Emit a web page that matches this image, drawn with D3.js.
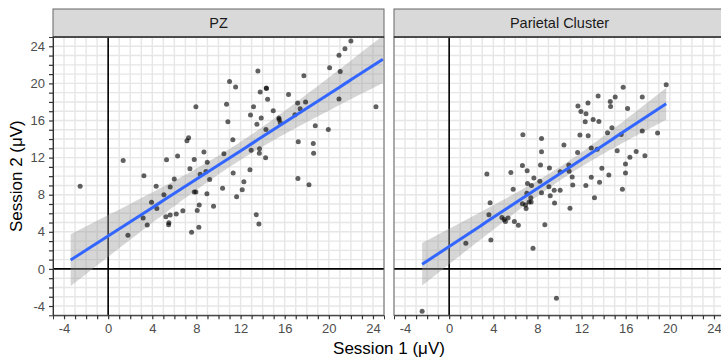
<!DOCTYPE html>
<html><head><meta charset="utf-8">
<script src="https://cdn.jsdelivr.net/npm/d3@7"></script>
<style>body{margin:0;background:#fff}svg{display:block}</style></head>
<body><svg id="c" width="721" height="360"></svg>
<script>
const panels = ["PZ", "Parietal Cluster"];
const pzX = [-2.54,1.36,1.79,3.17,3.24,3.54,3.93,4.35,4.41,5.05,5.23,5.29,5.48,5.5,5.62,5.62,5.99,6.17,6.29,6.77,7.14,7.29,7.41,7.56,7.8,7.8,7.95,7.95,8.07,8.22,8.25,8.34,8.68,8.86,8.95,8.98,9.2,9.55,10.37,10.49,10.73,10.85,11.0,11.3,11.33,11.55,11.64,12.15,12.3,12.85,12.9,12.96,13.18,13.42,13.48,13.57,13.66,13.72,13.7,13.78,13.87,14.27,14.3,14.33,14.35,14.45,14.96,15.47,15.5,15.6,16.35,16.93,17.17,17.23,17.2,17.4,17.74,17.89,18.2,18.59,18.62,18.77,19.95,20.07,20.92,20.92,21.03,21.46,22.0,24.27];
const pzY = [8.9,11.7,3.62,5.49,10.05,4.73,7.18,8.9,6.5,8.0,5.63,11.78,4.77,4.99,8.83,5.81,9.7,5.92,12.17,6.28,13.82,14.15,10.8,3.94,11.8,8.29,8.29,17.49,6.31,4.48,6.89,10.2,12.6,10.5,8.11,11.5,9.65,6.75,8.69,12.42,17.74,15.87,20.2,13.93,10.33,19.6,7.79,8.54,9.4,10.7,16.58,12.78,17.49,5.85,15.6,21.33,4.84,12.96,12.46,19.07,16.27,11.99,15.04,19.5,19.45,18.28,17.06,16.26,16.1,15.76,18.81,16.62,17.88,13.72,9.76,17.27,20.83,17.99,9.08,13.53,12.46,15.44,15.04,21.69,23.02,18.31,21.29,23.74,24.56,17.49];
const pcX = [-2.45,1.51,3.42,3.6,3.71,3.78,4.78,4.98,5.1,5.34,5.59,5.8,5.91,6.27,6.64,6.64,6.68,6.92,6.97,7.04,7.07,7.1,7.25,7.4,7.43,7.46,7.6,7.68,8.22,8.28,8.37,8.37,8.37,8.67,9.04,9.09,9.16,9.52,9.55,9.72,10.06,10.06,10.4,10.84,10.87,10.95,11.15,11.2,11.64,11.67,11.85,11.94,12.33,12.39,12.4,12.58,12.6,12.88,12.88,13.05,13.17,13.42,13.5,13.57,13.63,13.84,14.35,14.47,14.6,14.63,14.75,15.05,15.23,15.59,15.7,15.77,15.98,15.98,16.17,16.38,16.95,17.5,17.5,17.74,18.89,19.67];
const pcY = [-4.57,2.76,10.23,5.85,7.14,3.11,5.53,5.34,5.1,5.49,10.38,8.6,5.1,4.7,11.16,7.03,14.47,6.89,6.5,8.15,10.59,9.22,7.21,7.68,7.21,9.0,2.22,9.8,9.44,11.2,14.07,12.64,8.22,4.77,8.85,10.87,7.9,8.47,7.1,-3.17,8.47,10.48,13.35,11.2,10.52,6.53,9.9,9.04,12.56,17.55,14.43,16.98,15.87,9.0,16.73,17.88,14.36,13.03,9.87,16.12,7.68,12.89,18.63,15.9,9.33,10.84,14.69,10.12,18.06,17.52,15.23,18.52,12.75,14.5,8.6,19.57,11.31,10.34,17.3,12.03,12.67,18.52,14.86,12.21,14.64,19.86];
// fitted lines (intercept, slope, x-range, band width factor)
const fitIntercepts = [3.55, 2.42];
const fitSlopes = [0.765, 0.782];
const lineXRanges = [[-3.4, 24.9], [-2.45, 19.67]];
const bandScales = [1.2, 1.0];
const xTicks = [-4, 0, 4, 8, 12, 16, 20, 24];
const yTicks = [-4, 0, 4, 8, 12, 16, 20, 24];
const xTitle = "Session 1 (μV)";
const yTitle = "Session 2 (μV)";

const seriesX = [pzX, pcX], seriesY = [pzY, pcY];
const svg = d3.select("#c");
const font = "Liberation Sans, Arial, sans-serif";
const panelLefts = [53, 394], pw = 331, pTop = 37, pBottom = 315.3, stripTop = 9;
const y = d3.scaleLinear().domain([-5, 25]).range([pBottom, pTop]);
const minor = d3.range(-5, 26, 1);

function fit(xs, ys, a, b, k) {
  const n = xs.length, mx = d3.mean(xs);
  let sxx = 0; xs.forEach(v => { sxx += (v - mx) ** 2; });
  let sse = 0; xs.forEach((v, i) => { sse += (ys[i] - a - b * v) ** 2; });
  const s = Math.sqrt(sse / (n - 2)) * k;
  const t = 1.987;
  return xv => { const yh = a + b * xv; const se = s * Math.sqrt(1 / n + (xv - mx) ** 2 / sxx); return [yh, yh - t * se, yh + t * se]; };
}

svg.append("defs").selectAll("clipPath").data(panels).join("clipPath")
  .attr("id", (d, i) => "clip" + i)
  .append("rect").attr("x", (d, i) => panelLefts[i]).attr("y", pTop).attr("width", pw).attr("height", pBottom - pTop);

panels.forEach((name, i) => {
  const L = panelLefts[i];
  const x = d3.scaleLinear().domain([-5, 25]).range([L, L + pw]);
  const g = svg.append("g");
  g.append("rect").attr("x", L).attr("y", pTop).attr("width", pw).attr("height", pBottom - pTop).attr("fill", "#fff");
  g.selectAll(".gv").data(minor).join("line").attr("class", "gv").attr("x1", d => x(d)).attr("x2", d => x(d)).attr("y1", pTop).attr("y2", pBottom)
    .attr("stroke", "#e6e6e6").attr("stroke-width", 1.4);
  g.selectAll(".gh").data(minor).join("line").attr("class", "gh").attr("y1", d => y(d)).attr("y2", d => y(d)).attr("x1", L).attr("x2", L + pw)
    .attr("stroke", "#e6e6e6").attr("stroke-width", 1.4);
  g.append("line").attr("x1", x(0)).attr("x2", x(0)).attr("y1", pTop).attr("y2", pBottom).attr("stroke", "#000").attr("stroke-width", 1.6);
  g.append("line").attr("x1", L).attr("x2", L + pw).attr("y1", y(0)).attr("y2", y(0)).attr("stroke", "#000").attr("stroke-width", 1.6);
  const cg = g.append("g").attr("clip-path", `url(#clip${i})`);
  const f = fit(seriesX[i], seriesY[i], fitIntercepts[i], fitSlopes[i], bandScales[i]);
  const xs = d3.range(0, 81).map(k => lineXRanges[i][0] + (lineXRanges[i][1] - lineXRanges[i][0]) * k / 80);
  const pts = xs.map(v => [v, ...f(v)]);
  cg.append("path").attr("d", d3.area().x(d => x(d[0])).y0(d => y(d[2])).y1(d => y(d[3]))(pts))
    .attr("fill", "#999").attr("fill-opacity", 0.4);
  cg.selectAll("circle").data(seriesX[i].map((v, k) => [v, seriesY[i][k]])).join("circle")
    .attr("cx", d => x(d[0])).attr("cy", d => y(d[1])).attr("r", 2.5).attr("fill", "#000").attr("fill-opacity", 0.62);
  cg.append("path").attr("d", d3.line().x(d => x(d[0])).y(d => y(d[1]))(pts))
    .attr("fill", "none").attr("stroke", "#3366FF").attr("stroke-width", 3);
  g.append("rect").attr("x", L).attr("y", pTop).attr("width", pw).attr("height", pBottom - pTop)
    .attr("fill", "none").attr("stroke", "#666").attr("stroke-width", 1);
  g.append("rect").attr("x", L).attr("y", stripTop).attr("width", pw).attr("height", pTop - stripTop)
    .attr("fill", "#d9d9d9").attr("stroke", "#666").attr("stroke-width", 1);
  g.append("line").attr("x1", L).attr("x2", L + pw).attr("y1", pTop).attr("y2", pTop).attr("stroke", "#333").attr("stroke-width", 1.4);
  g.append("text").attr("x", L + pw / 2).attr("y", (stripTop + pTop) / 2).attr("dy", "0.35em").attr("text-anchor", "middle")
    .attr("font-family", font).attr("font-size", 14.5).attr("fill", "#1a1a1a").text(name);
  const xa = g.append("g").attr("transform", `translate(0,${pBottom})`)
    .call(d3.axisBottom(x).tickValues(minor.slice(1, -1)).tickSize(4).tickPadding(4).tickFormat(d => xTicks.includes(d) ? String(d) : ""));
  xa.select(".domain").attr("stroke", "#333");
  xa.selectAll(".tick line").attr("stroke", "#333").attr("stroke-width", 1.2);
  xa.selectAll("text").attr("font-family", font).attr("font-size", 13).attr("fill", "#4d4d4d");
  if (i === 0) {
    const ya = g.append("g").attr("transform", `translate(${L},0)`)
      .call(d3.axisLeft(y).tickValues(minor.slice(1, -1)).tickSize(4).tickPadding(4).tickFormat(d => yTicks.includes(d) ? String(d) : ""));
    ya.select(".domain").attr("stroke", "#333");
    ya.selectAll(".tick line").attr("stroke", "#333").attr("stroke-width", 1.2);
    ya.selectAll("text").attr("font-family", font).attr("font-size", 13).attr("fill", "#4d4d4d");
  }
});
svg.append("text").attr("x", (53 + 725) / 2).attr("y", 354).attr("text-anchor", "middle")
  .attr("font-family", font).attr("font-size", 17).attr("fill", "#000").text(xTitle);
svg.append("text").attr("transform", `translate(22,${(pTop + pBottom) / 2}) rotate(-90)`).attr("text-anchor", "middle")
  .attr("font-family", font).attr("font-size", 17).attr("fill", "#000").text(yTitle);
</script></body></html>
